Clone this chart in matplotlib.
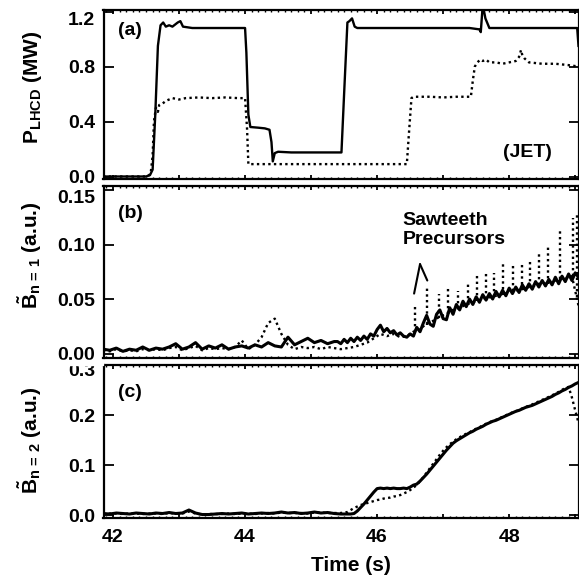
import numpy as np
import matplotlib
matplotlib.use("Agg")
import matplotlib.pyplot as plt
from matplotlib.patches import Rectangle
from matplotlib.transforms import ScaledTranslation
from matplotlib.ticker import MultipleLocator, FixedLocator, FuncFormatter

plt.rcParams['font.family'] = ['Liberation Sans', 'DejaVu Sans']
plt.rcParams['font.weight'] = 'bold'
plt.rcParams['axes.labelweight'] = 'bold'
plt.rcParams['mathtext.fontset'] = 'custom'
plt.rcParams['mathtext.bf'] = 'Liberation Sans:bold'
plt.rcParams['mathtext.rm'] = 'Liberation Sans:bold'
plt.rcParams['mathtext.it'] = 'Liberation Sans:bold'
plt.rcParams['mathtext.default'] = 'bf'

FS = 14

# ---- (a) LHCD power, MW ----
t_pa = [41.85, 42.50, 42.56, 42.60, 42.64, 42.68, 42.72, 42.76, 42.80, 42.85,
        42.90, 42.98, 43.02, 43.06, 43.20, 43.40, 43.60, 43.80, 44.00, 44.02,
        44.05, 44.08, 44.20, 44.30, 44.37, 44.40, 44.42, 44.45, 44.50, 44.70,
        45.00, 45.30, 45.46, 45.50, 45.55, 45.58, 45.62, 45.66, 45.70, 46.00,
        46.50, 47.00, 47.40, 47.55, 47.57, 47.60, 47.64, 47.70, 48.00, 48.50,
        48.90, 49.03, 49.05]
p_solid = [0.0, 0.0, 0.01, 0.05, 0.45, 0.95, 1.10, 1.12, 1.09, 1.10,
           1.09, 1.12, 1.13, 1.09, 1.08, 1.08, 1.08, 1.08, 1.08, 0.90,
           0.45, 0.36, 0.355, 0.35, 0.34, 0.25, 0.11, 0.17, 0.18, 0.175,
           0.175, 0.175, 0.175, 0.60, 1.12, 1.13, 1.15, 1.09, 1.08, 1.08,
           1.08, 1.08, 1.08, 1.07, 1.05, 1.25, 1.15, 1.08, 1.08, 1.08,
           1.08, 1.08, 0.95]

t_pb = [41.85, 42.52, 42.57, 42.60, 42.62, 42.65, 42.68, 42.70, 42.75, 42.80,
        42.90, 43.00, 43.10, 43.30, 43.50, 43.70, 43.90, 44.00, 44.03, 44.05,
        44.50, 45.00, 45.50, 46.00, 46.45, 46.48, 46.52, 46.55, 46.80, 47.00,
        47.20, 47.42, 47.45, 47.48, 47.52, 47.56, 47.60, 47.65, 47.70, 47.80,
        47.90, 48.00, 48.10, 48.15, 48.18, 48.20, 48.23, 48.30, 48.50, 48.70,
        48.90, 49.05]
p_dotted = [0.0, 0.0, 0.02, 0.15, 0.40, 0.50, 0.47, 0.52, 0.53, 0.55,
            0.57, 0.56, 0.57, 0.575, 0.57, 0.575, 0.57, 0.57, 0.35, 0.09,
            0.09, 0.09, 0.09, 0.09, 0.09, 0.30, 0.57, 0.58, 0.58, 0.575,
            0.58, 0.58, 0.70, 0.80, 0.83, 0.85, 0.84, 0.85, 0.83, 0.83,
            0.82, 0.83, 0.84, 0.87, 0.92, 0.88, 0.86, 0.83, 0.82, 0.82,
            0.81, 0.80]

# ---- (b) n=1 amplitude ----
t_b1_early = np.round(41.85 + 0.1 * np.arange(36), 2)
b1_early = [.004, .003, .005, .002, .004, .003, .006, .003, .005, .004,
            .006, .009, .004, .006, .010, .004, .007, .005, .008, .004,
            .006, .007, .005, .008, .006, .010, .007, .006, .015, .008,
            .011, .014, .010, .012, .009, .011]
t_b1_late = np.round(45.40 + 0.05 * np.arange(74), 2)
b1_late = [.011, .009, .013, .010, .014, .011, .015, .012, .016, .013,
           .018, .016, .022, .026, .020, .023, .019, .021, .017, .019,
           .016, .015, .018, .016, .024, .020, .028, .035, .027, .025,
           .036, .040, .032, .031, .042, .036, .045, .040, .048, .043,
           .050, .045, .052, .047, .054, .049, .055, .050, .057, .052,
           .058, .053, .060, .055, .061, .056, .063, .058, .064, .059,
           .066, .061, .067, .062, .068, .063, .070, .064, .071, .066,
           .073, .067, .074, .070]

t_b1d = np.round(41.85 + 0.1 * np.arange(73), 2)
b1_dotted = [.003, .002, .004, .002, .003, .002, .004, .003, .004, .003,
             .005, .006, .003, .005, .007, .003, .005, .004, .005, .004,
             .006, .012, .004, .008, .015, .028, .032, .018, .008, .004,
             .006, .005, .006, .004, .006, .005, .004, .005, .006, .008,
             .010, .014, .018, .016, .018, .015, .016, .020, .022, .028,
             .030, .034, .036, .040, .042, .045, .047, .049, .051, .052,
             .054, .055, .057, .058, .060, .062, .063, .064, .066, .068,
             .069, .071, .044]

# sawtooth precursor spikes on the dotted trace
spike_t = [46.58, 46.76, 46.93, 47.08, 47.23, 47.37, 47.52, 47.65, 47.77,
           47.91, 48.06, 48.19, 48.32, 48.45, 48.59, 48.77, 48.97, 49.02]
spike_lo = [.020, .026, .033, .036, .041, .045, .048, .050, .052,
            .054, .057, .058, .061, .063, .064, .068, .071, .052]
spike_hi = [.044, .060, .055, .060, .057, .065, .074, .074, .074,
            .082, .081, .084, .087, .091, .098, .115, .124, .127]

# ---- (c) n=2 amplitude ----
t_b2_early = np.round(41.85 + 0.1 * np.arange(38), 2)
b2_early = [.003, .002, .004, .003, .002, .004, .003, .002, .004, .003,
            .005, .003, .004, .010, .004, .001, .001, .002, .003, .002,
            .003, .004, .002, .003, .004, .003, .004, .006, .004, .005,
            .003, .004, .006, .004, .005, .003, .002, .002]
b2_early_dotted = [.002, .003, .003, .002, .003, .003, .002, .003, .003, .002,
                   .004, .003, .003, .007, .003, .001, .002, .002, .002, .003,
                   .002, .003, .003, .002, .003, .004, .003, .005, .004, .004,
                   .004, .003, .005, .005, .004, .004, .004, .006]
t_b2_late = np.round(45.60 + 0.05 * np.arange(70), 2)
b2_solid = [.002, .003, .008, .015, .022, .030, .038, .046,
            .053, .054, .053, .054, .053, .054, .053, .053, .054, .053,
            .056, .060, .062, .068, .075, .082, .090, .098, .106, .114,
            .122, .130, .137, .144, .149, .153, .157, .161, .165, .168,
            .172, .175, .178, .182, .185, .188, .190, .193, .196, .199,
            .202, .205, .208, .210, .213, .216, .218, .220, .223, .226,
            .229, .232, .235, .238, .242, .245, .249, .252, .256, .259,
            .263, .266]
b2_dotted = [.010, .014, .017, .020, .022, .024, .026, .028,
             .030, .031, .033, .034, .035, .037, .038, .040, .043, .046,
             .050, .055, .060, .068, .076, .085, .094, .103, .112, .121,
             .129, .136, .142, .147, .152, .156, .160, .163, .166, .170,
             .173, .176, .180, .183, .186, .189, .191, .194, .197, .200,
             .203, .206, .208, .211, .214, .217, .219, .222, .225, .228,
             .231, .234, .237, .240, .244, .247, .251, .255, .257, .236,
             .210, .185]

W, H = 579, 583
fig = plt.figure(figsize=(W / 100, H / 100), dpi=100)


def px_axes(top, bottom, left=103.5, right=578.5):
    return fig.add_axes([left / W, (H - bottom) / H, (right - left) / W, (bottom - top) / H])


ax_a = px_axes(10, 178.7)
ax_b = px_axes(186, 358)
ax_c = px_axes(365, 518)

SOLID = dict(color='black', lw=1.7, solid_joinstyle='round')
THICK = dict(color='black', lw=2.2, solid_joinstyle='round')
DOT = dict(color='black', lw=1.7, linestyle=(0, (1, 1.4)))

ax_a.plot(t_pb, p_dotted, **DOT)
ax_a.plot(t_pa, p_solid, **SOLID)

ax_b.plot(t_b1d, b1_dotted, **DOT)
ax_b.vlines(spike_t, spike_lo, spike_hi, colors='black', lw=1.7, linestyles=[(0, (1, 1.4))])
ax_b.plot(np.concatenate([t_b1_early, t_b1_late]), b1_early + b1_late, **THICK)

ax_c.plot(np.concatenate([t_b2_early, t_b2_late]), b2_early_dotted + b2_dotted, **DOT)
ax_c.plot(np.concatenate([t_b2_early, t_b2_late]), b2_early + b2_solid, **THICK)

ax_a.set_ylim(-0.016, 1.211)
ax_b.set_ylim(-0.0041, 0.1537)
ax_c.set_ylim(-0.006, 0.301)

ax_a.yaxis.set_major_locator(FixedLocator([0.0, 0.4, 0.8, 1.2]))
ax_a.yaxis.set_major_formatter(FuncFormatter(lambda v, p: f'{v:.1f}'))
ax_b.yaxis.set_major_locator(FixedLocator([0.0, 0.05, 0.10, 0.15]))
ax_b.yaxis.set_major_formatter(FuncFormatter(lambda v, p: f'{v:.2f}'))
ax_c.yaxis.set_major_locator(FixedLocator([0.0, 0.1, 0.2, 0.3]))
ax_c.yaxis.set_major_formatter(FuncFormatter(lambda v, p: f'{v:.1f}'))

for ax in (ax_a, ax_b, ax_c):
    ax.set_xlim(41.856, 49.05)
    ax.xaxis.set_major_locator(MultipleLocator(1))
    ax.xaxis.set_minor_locator(MultipleLocator(0.1))
    ax.xaxis.set_major_formatter(FuncFormatter(
        lambda v, p: f'{v:.0f}' if round(v) % 2 == 0 else ''))
    ax.tick_params(axis='both', which='both', direction='in', top=True, right=True,
                   labelsize=FS, width=1.3)
    ax.tick_params(axis='y', which='major', length=7, pad=6)
    ax.tick_params(axis='x', which='major', length=3, pad=8)
    ax.tick_params(axis='x', which='minor', length=1.5, width=1.0)
    for s in ax.spines.values():
        s.set_linewidth(1.6)

ax_a.tick_params(labelbottom=False)
ax_b.tick_params(labelbottom=False)

# top labels of (a) and (b) sit just below their ticks
for ax in (ax_a, ax_b):
    ax.yaxis.get_major_ticks()[-1].label1.set_va('top')
# (c) "0.3" is nudged down a little; its top is hidden by the band below
lab03 = ax_c.yaxis.get_major_ticks()[-1].label1
lab03.set_transform(lab03.get_transform() + ScaledTranslation(0, -0.04, fig.dpi_scale_trans))

ax_a.set_ylabel(r'$P_{LHCD}$ (MW)', fontsize=FS + 1)
ax_b.set_ylabel(r'$\tilde{B}_{n\,=\,1}$ (a.u.)', fontsize=FS + 1)
ax_c.set_ylabel(r'$\tilde{B}_{n\,=\,2}$ (a.u.)', fontsize=FS + 1)
ax_a.yaxis.set_label_coords(-0.125, 0.54)
ax_b.yaxis.set_label_coords(-0.125, 0.6)
ax_c.yaxis.set_label_coords(-0.125, 0.51)
ax_c.set_xlabel('Time (s)', fontsize=FS + 1)
ax_c.xaxis.set_label_coords(0.52, -0.25)

ax_a.text(0.031, 0.876, '(a)', transform=ax_a.transAxes, fontsize=FS, va='center')
ax_b.text(0.031, 0.843, '(b)', transform=ax_b.transAxes, fontsize=FS, va='center')
ax_c.text(0.031, 0.82, '(c)', transform=ax_c.transAxes, fontsize=FS, va='center')
ax_a.text(0.841, 0.158, '(JET)', transform=ax_a.transAxes, fontsize=FS, va='center')

ax_b.text(46.39, 0.130, 'Sawteeth\nPrecursors', fontsize=FS, va='top', ha='left',
          linespacing=1.15)
ax_b.annotate('', xy=(46.56, 0.055), xytext=(46.65, 0.082),
              arrowprops=dict(arrowstyle='-', color='black', lw=1.5, shrinkA=0, shrinkB=0))
ax_b.annotate('', xy=(46.76, 0.067), xytext=(46.65, 0.082),
              arrowprops=dict(arrowstyle='-', color='black', lw=1.5, shrinkA=0, shrinkB=0))

# thin white band hides the top of the (c) "0.3" label, as in the original
fig.add_artist(Rectangle((0, (H - 365) / H), 103 / W, 5 / H,
                         transform=fig.transFigure, color='white', zorder=10))

fig.savefig('out.png', dpi=100)
